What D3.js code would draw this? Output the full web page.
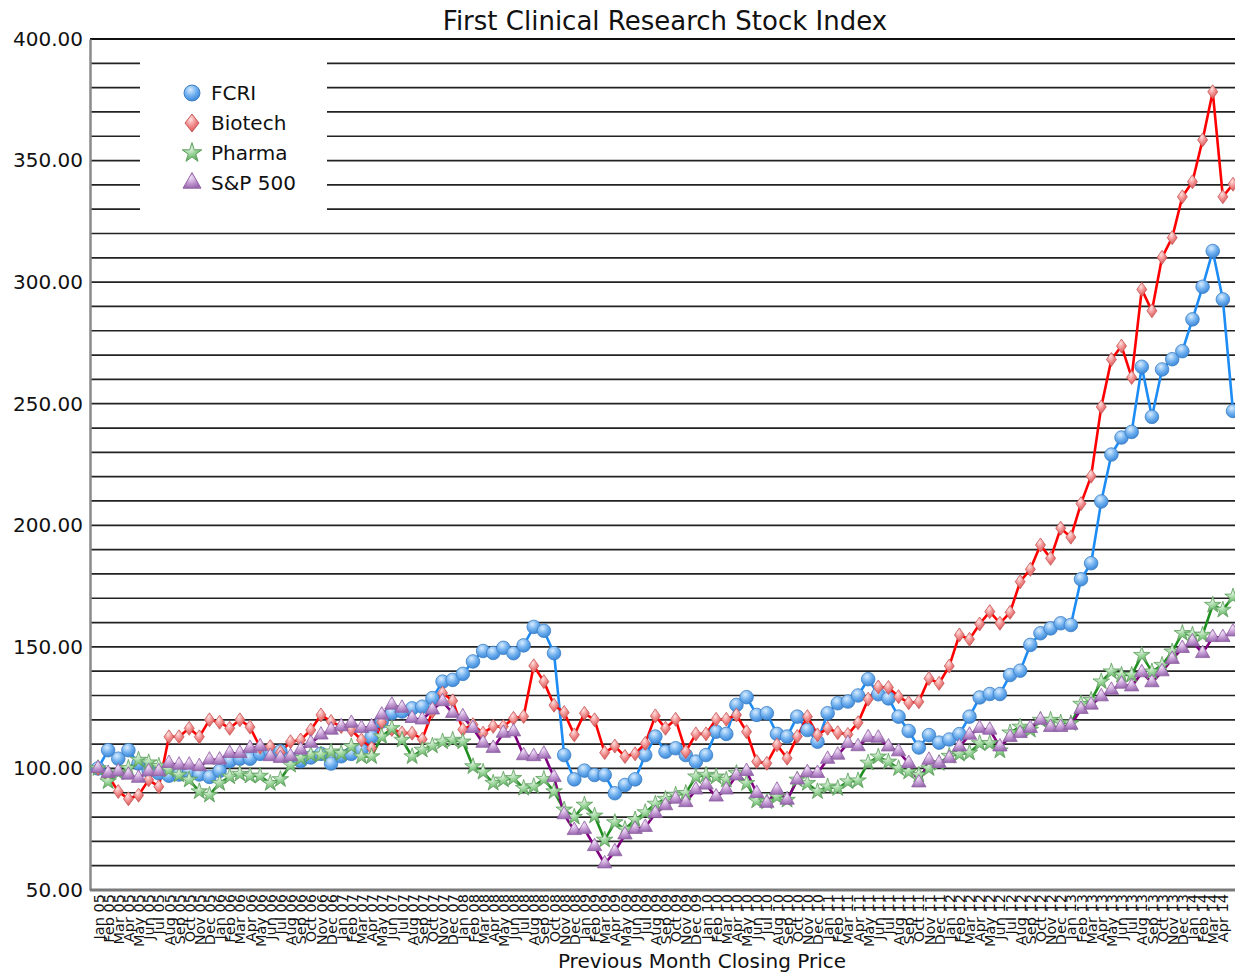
<!DOCTYPE html>
<html>
<head>
<meta charset="utf-8">
<script src="https://cdn.jsdelivr.net/npm/d3@7"></script>
<style>
  body { margin: 0; background: #fff; }
  svg { font-family: "DejaVu Sans", Verdana, sans-serif; }
</style>
</head>
<body>
<svg id="chart" width="1235" height="972"></svg>
<script>
// month labels Jan 05 .. May 14
var monthNames = ['Jan','Feb','Mar','Apr','May','Jun','Jul','Aug','Sep','Oct','Nov','Dec'];
var months = [];
for (var yr = 5; yr <= 14; yr++) {
    monthNames.forEach(function(m, k){
        if (yr === 14 && k > 4) return;
        months.push(m + ' ' + (yr < 10 ? '0' + yr : yr));
    });
}

var seriesNames = ['FCRI', 'Biotech', 'Pharma', 'S&P 500'];

var fcri = [100,107.5,104,107.5,102,99,98,97,97.5,98.5,97.5,96.5,
    99,103,104,104,106,107,107,104,103,104.5,106,102,
    105,106,107.5,113,119.3,122.7,123.4,124.7,125.4,128.9,135.7,136.4,
    138.9,144,148.3,147.5,149.6,147.4,150.6,158.2,156.6,147.4,105.5,95.5,
    99.1,97.3,97.3,89.8,93.2,95.5,105.5,113.1,106.9,108.3,105.5,102.8,
    105.5,115.1,114.2,126.1,129.3,122,122.7,114.2,113.1,121.3,115.8,111,
    122.7,126.8,127.5,130,136.7,130.5,128.8,121.3,115.4,108.6,113.7,110.6,
    111.9,114.1,121.3,129.2,130.6,130.6,138.4,140.2,150.8,155.6,157.6,159.7,
    159,177.8,184.4,209.8,229.1,236.1,238.4,265.2,244.6,264.1,268.3,271.6,
    284.7,298.1,312.8,292.9,247];

var biotech = [100,97,90.5,87.5,89,95.3,92.5,113,113,116.5,113,120,
    119,116.5,120,117,108.7,109,106.5,111,111.7,115.8,122,119.3,
    117.2,115.8,111.7,108.3,119,116,114.6,114.5,112,123.4,131,127.8,
    116,118,114.5,117.3,117.2,120.6,121.4,142.2,135.7,126,123,113.8,
    122.7,120,106.5,109.2,104.9,106,110.3,121.6,116.5,120.2,106.9,114.2,
    114.2,120.2,120.2,122,115.1,102.8,102.1,109.7,104.2,113.1,121.3,113.8,
    116.5,114.7,114,118.8,128.5,133.5,133.3,129.5,127,127.4,137,135,
    142.1,154.9,153.1,159.4,164.5,159.7,164.2,176.8,181.9,191.9,186.4,198.8,
    195.1,208.9,220.2,248.7,268.2,273.7,260.8,297,288.2,310.2,318.3,335.1,
    341.3,358.5,378.3,335.1,340.3];

var pharma = [100,94.6,98.3,100.1,103.5,102.4,101,99.4,97.3,95.3,90.5,89.1,
    93.9,96.6,97.7,96.9,96.9,93.9,95.5,101.4,104.2,105.6,105.6,106.9,
    106.2,109,104.9,104.9,113.1,116.5,111.7,104.9,107.6,109.3,111,111.7,
    111,100.8,98.5,94,95.3,96,91.9,92.6,95.6,90.5,83,80,
    85,80.5,70.6,77.8,75,78.9,81.9,85.4,87.4,89.1,89.8,96.6,
    97.3,96.6,95.3,98,93.9,86.7,86.3,88.4,87,95.3,93.9,90.5,
    92.5,91.8,94.6,95,102.3,104.8,102.7,100,98.6,97.3,100,102.1,
    105.1,105.9,106.4,110.3,110.3,107.3,114.7,117.1,115.8,119.9,119.9,118.8,
    118.5,126.5,128.1,135.7,139.8,138.4,138.4,146.6,139.8,142.5,148,155.6,
    154.9,154.9,167.2,165.2,170.6];

var sp500 = [100,98,98.7,97.3,96,98.7,98.7,102.1,101.4,101.4,100.8,103.5,
    103.5,106.2,106.2,108.3,109,104.9,104.2,104.9,107.6,110.4,113.8,115.8,
    117.2,118.6,116.5,117.2,122,126.1,124.8,120.6,120,124.1,127.5,122.7,
    121.3,116.5,110.4,108.3,114.5,115.1,105.3,104.9,105.9,96.3,81,74.5,
    75,67.9,60.8,65.8,72.7,75,75.8,81.5,84.7,87.4,86,91.2,
    93.2,88.3,91.2,97,98.8,89.8,85.7,91.1,87,95.3,98.3,98,
    103.8,105.5,110.3,109,112.7,112.5,108.9,106.9,102.1,94.1,103.4,102.1,
    104.1,108.9,113.7,116.5,115.8,108.9,112.8,114.4,116.5,119.9,116.9,116.9,
    117.8,124.3,126.1,129.5,132.2,134.7,133.6,139.4,135.3,139.8,144.9,149.4,
    152.1,147.3,153.9,153.9,156.2];

var yTicks = [50,100,150,200,250,300,350,400];

var svg = d3.select('#chart');
var svgWidth = +svg.attr('width');

var plot = {l: 90, t: 39, b: 890, xFirst: 98, xLast: 1233};

var xScale = d3.scalePoint().domain(months).range([plot.xFirst, plot.xLast]);
var yScale = d3.scaleLinear().domain([50, 400]).range([plot.b, plot.t]);

var lineColors = ['#1e8cf5', '#ff0000', '#1f8f1f', '#800080'];
var markFill = ['fcriGrad', 'bioGrad', 'phGrad', 'spGrad'];
var markStroke = ['#3d7fc4', '#c85a5a', '#5f9f5f', '#8f62a3'];

// gradients for glossy markers
var defs = svg.append('defs');
function radial(id, light, mid, dark) {
    var g = defs.append('radialGradient').attr('id', id)
        .attr('cx', '40%').attr('cy', '30%').attr('r', '70%');
    g.append('stop').attr('offset', '0%').attr('stop-color', light);
    g.append('stop').attr('offset', '55%').attr('stop-color', mid);
    g.append('stop').attr('offset', '100%').attr('stop-color', dark);
}
radial('fcriGrad', '#d8ecff', '#6fb0ef', '#3d88d8');
radial('bioGrad', '#ffe0e0', '#f08a8a', '#d85555');
radial('phGrad', '#e6f5e6', '#8fcf8f', '#5fa55f');
radial('spGrad', '#f3e3f8', '#c39ad3', '#9a6ab0');

// grid lines every 10
var gridVals = d3.range(60, 400, 10);
svg.append('g').attr('class', 'grid')
    .selectAll('line').data(gridVals).enter().append('line')
    .attr('x1', plot.l).attr('x2', svgWidth)
    .attr('y1', function(d){ return yScale(d); })
    .attr('y2', function(d){ return yScale(d); })
    .attr('stroke', '#222').attr('stroke-width', 1.7);

// top border
svg.append('line').attr('x1', plot.l).attr('x2', svgWidth)
    .attr('y1', yScale(400)).attr('y2', yScale(400))
    .attr('stroke', '#111').attr('stroke-width', 2);

// legend background hides grid
svg.append('rect').attr('x', 140).attr('y', 50).attr('width', 187).attr('height', 168)
    .attr('fill', '#fff');

// y axis
var yAxis = svg.append('g')
    .attr('transform', 'translate(' + plot.l + ',0)')
    .call(d3.axisLeft(yScale).tickValues(yTicks).tickFormat(d3.format('.2f')).tickSize(0).tickPadding(7));
yAxis.select('.domain').attr('stroke', '#8a8a8a').attr('stroke-width', 2.5);
yAxis.selectAll('text').attr('font-size', 20).attr('fill', '#111')
    .attr('font-family', '"DejaVu Sans", Verdana, sans-serif');

// x axis
var xAxis = svg.append('g')
    .attr('transform', 'translate(0,' + plot.b + ')')
    .call(d3.axisBottom(xScale).tickValues(months.slice(0, months.length - 1)).tickSize(0));
xAxis.select('.domain').remove();
xAxis.selectAll('text')
    .attr('font-size', 14.5).attr('fill', '#111')
    .attr('font-family', '"DejaVu Sans", Verdana, sans-serif')
    .attr('text-anchor', 'end')
    .attr('transform', 'rotate(-90)')
    .attr('x', -4).attr('y', 0).attr('dy', '0.35em');

svg.append('line').attr('x1', plot.l).attr('x2', svgWidth)
    .attr('y1', plot.b).attr('y2', plot.b)
    .attr('stroke', '#7a7a7a').attr('stroke-width', 3);

// series
var allSeries = [fcri, biotech, pharma, sp500];
var line = d3.line()
    .x(function(d, i){ return xScale(months[i]); })
    .y(function(d){ return yScale(d); });

var diamond = 'M0,-7L5,0L0,7L-5,0Z';
function markerPath(k) {
    if (k === 0) return d3.symbol().type(d3.symbolCircle).size(145)();
    if (k === 1) return diamond;
    if (k === 2) return d3.symbol().type(d3.symbolStar).size(85)();
    return d3.symbol().type(d3.symbolTriangle).size(90)();
}

allSeries.forEach(function(vals, k){
    svg.append('path').datum(vals)
        .attr('d', line)
        .attr('fill', 'none')
        .attr('stroke', lineColors[k])
        .attr('stroke-width', 2.6)
        .attr('stroke-linejoin', 'round');
});
allSeries.forEach(function(vals, k){
    svg.append('g').selectAll('path').data(vals).enter().append('path')
        .attr('d', markerPath(k))
        .attr('transform', function(d, i){
            return 'translate(' + xScale(months[i]) + ',' + yScale(d) + ')';
        })
        .attr('fill', 'url(#' + markFill[k] + ')')
        .attr('stroke', markStroke[k])
        .attr('stroke-width', 0.8);
});

// legend
var legend = svg.append('g');
seriesNames.forEach(function(name, k){
    var yPos = 93 + k * 30;
    legend.append('path')
        .attr('d', k === 0 ? d3.symbol().type(d3.symbolCircle).size(200)() :
              k === 1 ? 'M0,-9L7,0L0,9L-7,0Z' :
              k === 2 ? d3.symbol().type(d3.symbolStar).size(120)() :
              d3.symbol().type(d3.symbolTriangle).size(140)())
        .attr('transform', 'translate(192,' + yPos + ')')
        .attr('fill', 'url(#' + markFill[k] + ')')
        .attr('stroke', markStroke[k]).attr('stroke-width', 1);
    legend.append('text')
        .attr('x', 211).attr('y', yPos).attr('dy', '0.36em')
        .attr('font-size', 20).attr('fill', '#111')
        .text(name);
});

// titles
svg.append('text')
    .attr('x', 665).attr('y', 30)
    .attr('text-anchor', 'middle')
    .attr('font-size', 26).attr('fill', '#111')
    .text('First Clinical Research Stock Index');

svg.append('text')
    .attr('x', 702).attr('y', 968)
    .attr('text-anchor', 'middle')
    .attr('font-size', 20).attr('fill', '#111')
    .text('Previous Month Closing Price');
</script>
</body>
</html>
